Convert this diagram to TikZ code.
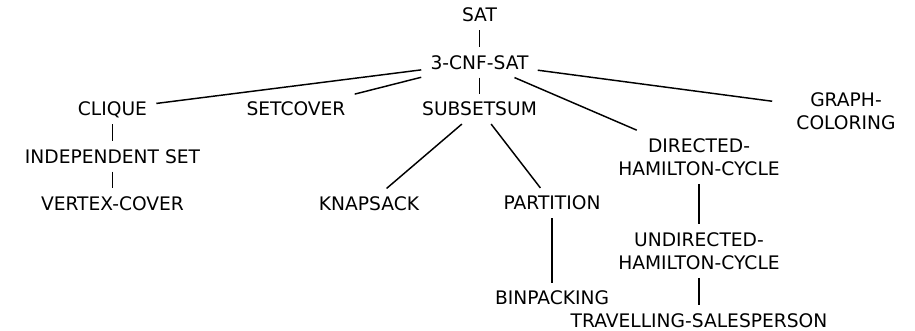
\documentclass[tikz,border=0pt]{standalone}
\usepackage{fontspec}
\setmainfont{DejaVu Sans}
\begin{document}
\begin{tikzpicture}[x=0.75pt,y=-0.75pt,
  lbl/.style={inner xsep=6.75pt,inner ysep=6pt,text height=10.2pt,text depth=0pt,font=\fontsize{14pt}{17.25pt}\selectfont},
  lbltwo/.style={inner xsep=6.75pt,inner ysep=6pt,align=center,font=\fontsize{14pt}{17.25pt}\selectfont},
  edge/.style={line width=1.1pt,line cap=butt}]
\useasboundingbox (0,0) rectangle (915,331);
\node[lbl] (sat) at (479.5,15) {SAT};
\node[lbl] (cnf) at (479.5,62.5) {3-CNF-SAT};
\node[lbl] (clique) at (112.5,109) {CLIQUE};
\node[lbl] (setcover) at (296,109) {SETCOVER};
\node[lbl] (subset) at (479.5,109) {SUBSETSUM};
\node[lbltwo,inner xsep=18pt] (graph) at (846,111) {GRAPH-\\COLORING};
\node[lbltwo] (directed) at (699,157) {DIRECTED-\\HAMILTON-CYCLE};
\node[lbl] (indep) at (112.5,156.5) {INDEPENDENT SET};
\node[lbl] (vertex) at (112.5,203.5) {VERTEX-COVER};
\node[lbl] (knapsack) at (369,203.5) {KNAPSACK};
\node[lbl] (partition) at (552,203) {PARTITION};
\node[lbltwo] (undirected) at (699,251) {UNDIRECTED-\\HAMILTON-CYCLE};
\node[lbl] (binpacking) at (552,298) {BINPACKING};
\node[lbl] (tsp) at (699,320.5) {TRAVELLING-SALESPERSON};
\draw[edge] (sat) -- (cnf);
\draw[edge] (cnf) -- (clique);
\draw[edge] (cnf) -- (setcover);
\draw[edge] (cnf) -- (subset);
\draw[edge] (cnf) -- (graph);
\draw[edge] (cnf) -- (directed);
\draw[edge] (clique) -- (indep);
\draw[edge] (indep) -- (vertex);
\draw[edge] (subset) -- (knapsack);
\draw[edge] (subset) -- (partition);
\draw[edge] (partition) -- (binpacking);
\draw[edge] (directed) -- (undirected);
\draw[edge] (undirected) -- (tsp);
\end{tikzpicture}
\end{document}
